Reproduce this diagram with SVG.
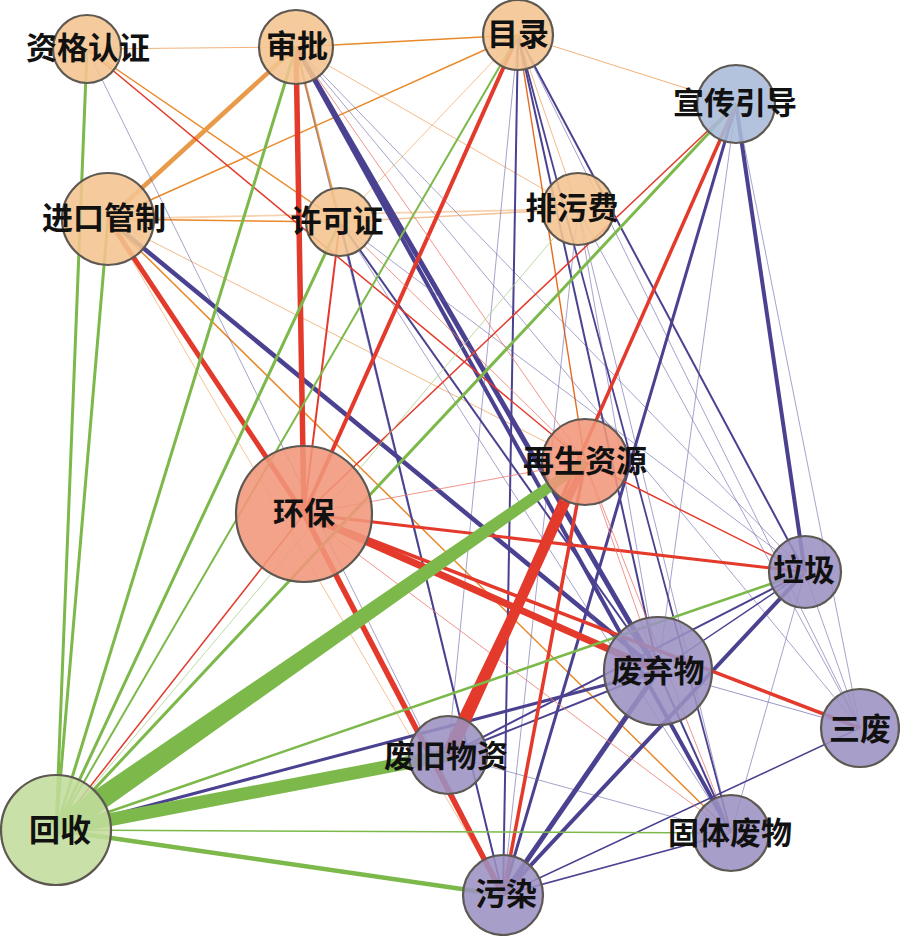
<svg xmlns="http://www.w3.org/2000/svg" width="900" height="936" viewBox="0 0 900 936">
<style>
line{fill:none;stroke-linecap:butt}
.o{stroke:#E8892A}
.lo{stroke:#F2B27A}
.ro{stroke:#E66A1E}
.r{stroke:#E33A2C}
.lr{stroke:#EE7A70}
.g{stroke:#7CB84A}
.lg{stroke:#A9D38A}
.p{stroke:#4A4290}
.lp{stroke:#6A64A8;stroke-opacity:0.75}
.band-g{fill:#7CB84A}
.band-r{fill:#E33A2C}
.node circle{stroke:#5E5852;stroke-width:2.2;fill-opacity:0.88}
.fo{fill:#F4C490}
.fr{fill:#F0967A}
.fp{fill:#9B91C1}
.fb{fill:#A9BAD8}
.fg{fill:#C2DC9C}
text{font-family:"Noto Sans CJK SC","Noto Sans CJK TC",sans-serif;font-size:31px;font-weight:700;fill:#111;text-anchor:middle}
</style>
<rect width="900" height="936" fill="#fff"/>
<g id="connectors">
<!-- orange -->
<line class="lo" x1="87" y1="49" x2="296" y2="47" stroke-width="1"/>
<line class="o" x1="87" y1="49" x2="340" y2="222" stroke-width="1.5"/>
<line class="o" x1="296" y1="47" x2="518" y2="35" stroke-width="1.6"/>
<line stroke="#E89A48" x1="296" y1="47" x2="108" y2="219" stroke-width="4.5"/>
<line stroke="#E99A48" x1="296" y1="47" x2="340" y2="222" stroke-width="2.5"/>
<line class="lo" x1="296" y1="47" x2="578" y2="209" stroke-width="0.9"/>
<line class="o" x1="518" y1="35" x2="108" y2="219" stroke-width="1.5"/>
<line class="lo" x1="518" y1="35" x2="340" y2="222" stroke-width="0.8"/>
<line class="lo" x1="518" y1="35" x2="578" y2="209" stroke-width="0.9"/>
<line class="lo" x1="518" y1="35" x2="736" y2="104" stroke-width="1"/>
<line class="o" x1="108" y1="219" x2="340" y2="222" stroke-width="1.5"/>
<line stroke="#F6D2AE" x1="108" y1="219" x2="578" y2="209" stroke-width="1.8"/>
<line stroke="#F4C49A" x1="340" y1="222" x2="578" y2="209" stroke-width="1.6"/>
<line class="ro" x1="518" y1="35" x2="585" y2="462" stroke-width="1.4"/>
<line class="lo" x1="108" y1="219" x2="585" y2="462" stroke-width="0.9"/>
<line class="o" x1="108" y1="219" x2="731" y2="833" stroke-width="1.5"/>
<line class="lo" x1="108" y1="219" x2="503" y2="895" stroke-width="0.8"/>
<!-- purple -->
<line class="lp" x1="87" y1="49" x2="503" y2="895" stroke-width="0.8"/>
<line class="p" x1="296" y1="47" x2="658" y2="671" stroke-width="5"/>
<line class="p" x1="296" y1="47" x2="731" y2="833" stroke-width="4"/>
<line class="lp" x1="296" y1="47" x2="805" y2="572" stroke-width="0.8"/>
<line class="lp" x1="296" y1="47" x2="503" y2="895" stroke-width="0.8"/>
<line class="lp" x1="296" y1="47" x2="860" y2="728" stroke-width="0.8"/>
<line class="p" x1="518" y1="35" x2="503" y2="895" stroke-width="2"/>
<line class="lp" x1="518" y1="35" x2="448" y2="755" stroke-width="0.8"/>
<line class="p" x1="518" y1="35" x2="658" y2="671" stroke-width="2"/>
<line class="p" x1="518" y1="35" x2="731" y2="833" stroke-width="1.8"/>
<line class="p" x1="518" y1="35" x2="805" y2="572" stroke-width="2"/>
<line class="lp" x1="518" y1="35" x2="860" y2="728" stroke-width="0.8"/>
<line class="p" x1="108" y1="219" x2="658" y2="671" stroke-width="4.5"/>
<line class="p" x1="340" y1="222" x2="503" y2="895" stroke-width="2"/>
<line class="p" x1="340" y1="222" x2="658" y2="671" stroke-width="2"/>
<line class="lp" x1="340" y1="222" x2="805" y2="572" stroke-width="0.8"/>
<line class="lp" x1="340" y1="222" x2="731" y2="833" stroke-width="0.8"/>
<line class="lp" x1="578" y1="209" x2="658" y2="671" stroke-width="0.8"/>
<line class="lp" x1="578" y1="209" x2="731" y2="833" stroke-width="0.8"/>
<line class="lp" x1="578" y1="209" x2="860" y2="728" stroke-width="0.8"/>
<line class="lp" x1="578" y1="209" x2="503" y2="895" stroke-width="0.8"/>
<line class="p" x1="736" y1="104" x2="503" y2="895" stroke-width="3"/>
<line class="lp" x1="736" y1="104" x2="658" y2="671" stroke-width="0.8"/>
<line class="p" x1="736" y1="104" x2="805" y2="572" stroke-width="4"/>
<line class="lp" x1="736" y1="104" x2="860" y2="728" stroke-width="0.8"/>
<line class="p" x1="736" y1="104" x2="448" y2="755" stroke-width="2"/>
<line class="p" x1="56" y1="830" x2="658" y2="671" stroke-width="3"/>
<line class="p" x1="448" y1="755" x2="658" y2="671" stroke-width="2"/>
<line class="lp" x1="448" y1="755" x2="731" y2="833" stroke-width="0.8"/>
<line class="p" x1="658" y1="671" x2="503" y2="895" stroke-width="5"/>
<line class="p" x1="805" y1="572" x2="503" y2="895" stroke-width="4"/>
<line class="p" x1="860" y1="728" x2="503" y2="895" stroke-width="1.5"/>
<line class="p" x1="731" y1="833" x2="503" y2="895" stroke-width="1.5"/>
<line class="p" x1="805" y1="572" x2="658" y2="671" stroke-width="1.5"/>
<line class="p" x1="805" y1="572" x2="448" y2="755" stroke-width="2"/>
<line class="lp" x1="805" y1="572" x2="860" y2="728" stroke-width="0.8"/>
<line class="lp" x1="805" y1="572" x2="731" y2="833" stroke-width="0.8"/>
<line class="lp" x1="658" y1="671" x2="860" y2="728" stroke-width="0.9"/>
<line class="p" x1="658" y1="671" x2="731" y2="833" stroke-width="2"/>
<!-- red -->
<line class="r" x1="296" y1="47" x2="304" y2="514" stroke-width="5.5"/>
<line class="r" x1="518" y1="35" x2="304" y2="514" stroke-width="4"/>
<line class="r" x1="108" y1="219" x2="304" y2="514" stroke-width="5"/>
<line class="r" x1="340" y1="222" x2="304" y2="514" stroke-width="2"/>
<line class="r" x1="736" y1="104" x2="304" y2="514" stroke-width="1.5"/>
<line class="r" x1="56" y1="830" x2="304" y2="514" stroke-width="1.5"/>
<line class="lr" x1="304" y1="514" x2="585" y2="462" stroke-width="0.8"/>
<line class="r" x1="304" y1="514" x2="805" y2="572" stroke-width="3"/>
<line class="r" x1="304" y1="514" x2="658" y2="671" stroke-width="7"/>
<line class="r" x1="304" y1="514" x2="860" y2="728" stroke-width="3.5"/>
<line class="r" x1="304" y1="514" x2="503" y2="895" stroke-width="5.5"/>
<line class="lr" x1="304" y1="514" x2="731" y2="833" stroke-width="0.8"/>
<line class="r" x1="87" y1="49" x2="585" y2="462" stroke-width="1.5"/>
<line class="lr" x1="296" y1="47" x2="585" y2="462" stroke-width="0.8"/>
<line class="lr" x1="340" y1="222" x2="585" y2="462" stroke-width="0.8"/>
<line class="r" x1="736" y1="104" x2="448" y2="755" stroke-width="3.5"/>
<polygon class="band-r" points="588.2,463.5 581.8,460.5 441.7,752 454.3,758"/>
<line class="r" x1="585" y1="462" x2="503" y2="895" stroke-width="3.5"/>
<line class="lr" x1="585" y1="462" x2="731" y2="833" stroke-width="0.8"/>
<line class="r" x1="585" y1="462" x2="805" y2="572" stroke-width="1.5"/>
<line class="lr" x1="585" y1="462" x2="658" y2="671" stroke-width="0.8"/>
<!-- green -->
<line class="g" x1="56" y1="830" x2="87" y2="49" stroke-width="3"/>
<line class="g" x1="56" y1="830" x2="108" y2="219" stroke-width="3"/>
<line class="g" x1="56" y1="830" x2="296" y2="47" stroke-width="3"/>
<line class="g" x1="56" y1="830" x2="340" y2="222" stroke-width="3"/>
<line class="g" x1="56" y1="830" x2="518" y2="35" stroke-width="2"/>
<line class="lg" x1="56" y1="830" x2="578" y2="209" stroke-width="0.8"/>
<line class="g" x1="56" y1="830" x2="736" y2="104" stroke-width="3"/>
<polygon class="band-g" points="62.3,839.0 49.7,821.0 582.1,457.9 587.9,466.1"/>
<line class="g" x1="56" y1="830" x2="805" y2="572" stroke-width="2.5"/>
<line class="g" x1="56" y1="830" x2="448" y2="755" stroke-width="13"/>
<line class="g" x1="56" y1="830" x2="731" y2="833" stroke-width="1.5"/>
<line class="g" x1="56" y1="830" x2="503" y2="895" stroke-width="4.5"/>
</g>
<g id="n-zige" class="node"><circle class="fo" cx="87" cy="49" r="34"/><text x="88" y="59">资格认证</text></g>
<g id="n-shenpi" class="node"><circle class="fo" cx="296" cy="47" r="37"/><text x="297" y="57">审批</text></g>
<g id="n-mulu" class="node"><circle class="fo" cx="518" cy="35" r="35"/><text x="518" y="45">目录</text></g>
<g id="n-xuanchuan" class="node"><circle class="fb" cx="736" cy="104" r="39"/><text x="735" y="114">宣传引导</text></g>
<g id="n-jinkou" class="node"><circle class="fo" cx="108" cy="219" r="46"/><text x="104" y="229">进口管制</text></g>
<g id="n-xuke" class="node"><circle class="fo" cx="340" cy="222" r="34"/><text x="337" y="232">许可证</text></g>
<g id="n-paiwu" class="node"><circle class="fo" cx="578" cy="209" r="36"/><text x="572" y="219">排污费</text></g>
<g id="n-zaisheng" class="node"><circle class="fr" cx="585" cy="462" r="43"/><text x="585" y="472">再生资源</text></g>
<g id="n-huanbao" class="node"><circle class="fr" cx="304" cy="514" r="68"/><text x="304" y="524">环保</text></g>
<g id="n-laji" class="node"><circle class="fp" cx="805" cy="572" r="36"/><text x="804" y="581">垃圾</text></g>
<g id="n-feiqi" class="node"><circle class="fp" cx="658" cy="671" r="54"/><text x="658" y="682">废弃物</text></g>
<g id="n-sanfei" class="node"><circle class="fp" cx="860" cy="728" r="39"/><text x="860" y="740">三废</text></g>
<g id="n-feijiu" class="node"><circle class="fp" cx="448" cy="755" r="39"/><text x="446" y="767">废旧物资</text></g>
<g id="n-wuran" class="node"><circle class="fp" cx="503" cy="895" r="40"/><text x="506" y="905">污染</text></g>
<g id="n-huishou" class="node"><circle class="fg" cx="56" cy="830" r="55"/><text x="60" y="841">回收</text></g>
<g id="n-guti" class="node"><circle class="fp" cx="731" cy="833" r="38"/><text x="730" y="844">固体废物</text></g>
</svg>
